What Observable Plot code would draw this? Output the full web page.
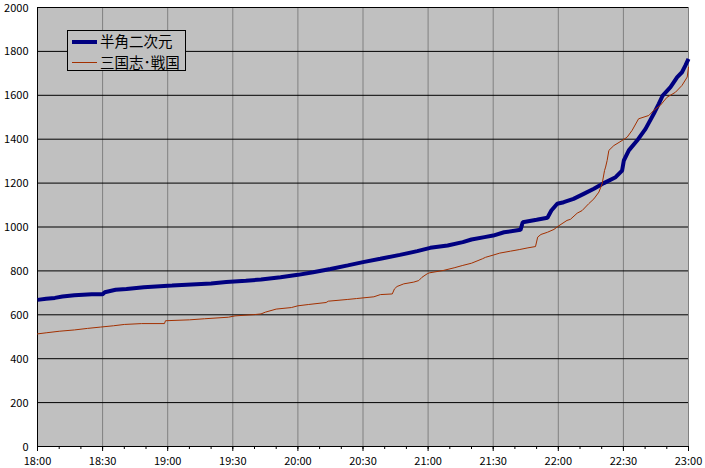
<!DOCTYPE html>
<html><head><meta charset="utf-8">
<script src="https://cdn.jsdelivr.net/npm/d3@7"></script>
<script src="https://cdn.jsdelivr.net/npm/@observablehq/plot@0.6"></script>
<style>
body{margin:0;background:#fff;}
#wrap{position:relative;width:705px;height:468px;}
#legend{position:absolute;left:67px;top:30px;width:117px;height:39px;border:1px solid #000;background:#c0c0c0;font-family:"Noto Sans CJK JP",sans-serif;font-size:14.5px;line-height:1;}
#legend .sw{position:absolute;left:4px;width:25px;}
#legend .tx{position:absolute;left:32px;white-space:nowrap;color:#000;}
</style>
</head><body>
<div id="wrap"><div id="legend"></div></div>
<script>
const seriesNames = ["半角二次元", "三国志･戦国"];
const seriesColors = ["#000080", "#a33000"];
const xTicks = [0, 30, 60, 90, 120, 150, 180, 210, 240, 270, 300];
const xTickLabels = ["18:00","18:30","19:00","19:30","20:00","20:30","21:00","21:30","22:00","22:30","23:00"];
const xMinorTicks = d3.range(0, 301, 10);
const yTicks = [0,200,400,600,800,1000,1200,1400,1600,1800,2000];
const yTickLabels = ["0","200","400","600","800","1000","1200","1400","1600","1800","2000"];

// minutes after 18:00
const blueMinutes = [0,4,8,11.5,17,25,30,31,36,41,49,62,80,87,96,103,112,120,127,135,143,150,158,167,175,181,189,196,200,206,210,215,222.6,223.6,230,235,236.8,239.5,242.5,247,251.7,256.4,261,266.4,269.4,270.2,272.5,276.8,280.2,284,286.3,288.1,291.7,294.8,297,298.6,300];
const blueValues = [668,673,677,683,689,694,694,703,714,718,726,733,743,749,755,761,771,782,794,809,825,840,855,873,890,905,916,931,943,954,961,976,987,1022,1033,1042,1075,1106,1113,1128,1151,1174,1200,1227,1257,1303,1349,1400,1447,1516,1561,1599,1637,1683,1705,1736,1766];

const redMinutes = [0,4,10,17,23,29,35,40,48,58.5,59,70,77,88,91,100,103,105,110,117,120,125,133,134,143,147,155,158,163.5,164.5,165.7,168.8,173.4,175.7,177.2,179.6,180.5,187,192,196,200,203,205,206.5,210,213,218,222,226,229.5,230.5,232,235,238,240,244,245.6,248.7,251,254,256.4,258.7,260.2,261.3,261.8,262.5,263.3,265.6,269.4,271.7,274,277,281.7,284,287,290.1,294,297,299.4,300];
const redValues = [513,518,525,531,538,544,550,556,560,560,573,577,582,589,595,601,604,612,626,633,641,647,656,662,670,674,682,692,695,718,729,741,749,756,771,787,791,802,814,825,835,847,855,862,872,881,890,897,905,911,954,966,976,989,1004,1030,1035,1063,1075,1106,1128,1159,1197,1257,1273,1303,1349,1371,1394,1409,1440,1493,1508,1531,1554,1591,1614,1645,1683,1728];

const blueData = blueMinutes.map((m, i) => ({m, v: blueValues[i]}));
const redData = redMinutes.map((m, i) => ({m, v: redValues[i]}));

const chart = Plot.plot({
  width: 705, height: 468,
  marginLeft: 37, marginRight: 17, marginTop: 7, marginBottom: 22,
  style: {fontFamily: '"Noto Sans CJK JP", sans-serif', fontSize: "11px", color: "#000", background: "#fff", overflow: "visible"},
  x: {domain: [0, 300]},
  y: {domain: [0, 2000]},
  marks: [
    Plot.frame({fill: "#c0c0c0", stroke: "#808080"}),
    Plot.ruleX(xTicks.slice(1), {stroke: "#808080"}),
    Plot.ruleY(yTicks.slice(1), {stroke: "#000"}),
    Plot.axisY({ticks: yTicks, tickSize: 0, tickPadding: 9, dy: 0.5, tickFormat: d => yTickLabels[yTicks.indexOf(d)], label: null}),
    Plot.axisX({ticks: xMinorTicks, tickSize: 3, tickFormat: () => "", label: null}),
    Plot.axisX({ticks: xTicks, tickSize: 5, tickPadding: 6, tickFormat: d => xTickLabels[xTicks.indexOf(d)], label: null}),
    Plot.ruleX([0], {stroke: "#000"}),
    Plot.ruleY([0], {stroke: "#000"}),
    Plot.line(blueData, {x: "m", y: "v", stroke: seriesColors[0], strokeWidth: 4, strokeLinejoin: "miter", strokeLinecap: "butt"}),
    Plot.line(redData, {x: "m", y: "v", stroke: seriesColors[1], strokeWidth: 1})
  ]
});
document.getElementById("wrap").prepend(chart);

const legend = document.getElementById("legend");
const rowTops = [2.75, 23.75];
const rowCenters = [10.5, 31];
const swHeights = [4, 1];
seriesNames.forEach((name, i) => {
  const sw = document.createElement("div");
  sw.className = "sw";
  sw.style.top = (rowCenters[i] - swHeights[i] / 2) + "px";
  sw.style.height = swHeights[i] + "px";
  sw.style.background = seriesColors[i];
  legend.appendChild(sw);
  const tx = document.createElement("div");
  tx.className = "tx";
  tx.style.top = rowTops[i] + "px";
  tx.textContent = name;
  legend.appendChild(tx);
});
</script>
</body></html>
